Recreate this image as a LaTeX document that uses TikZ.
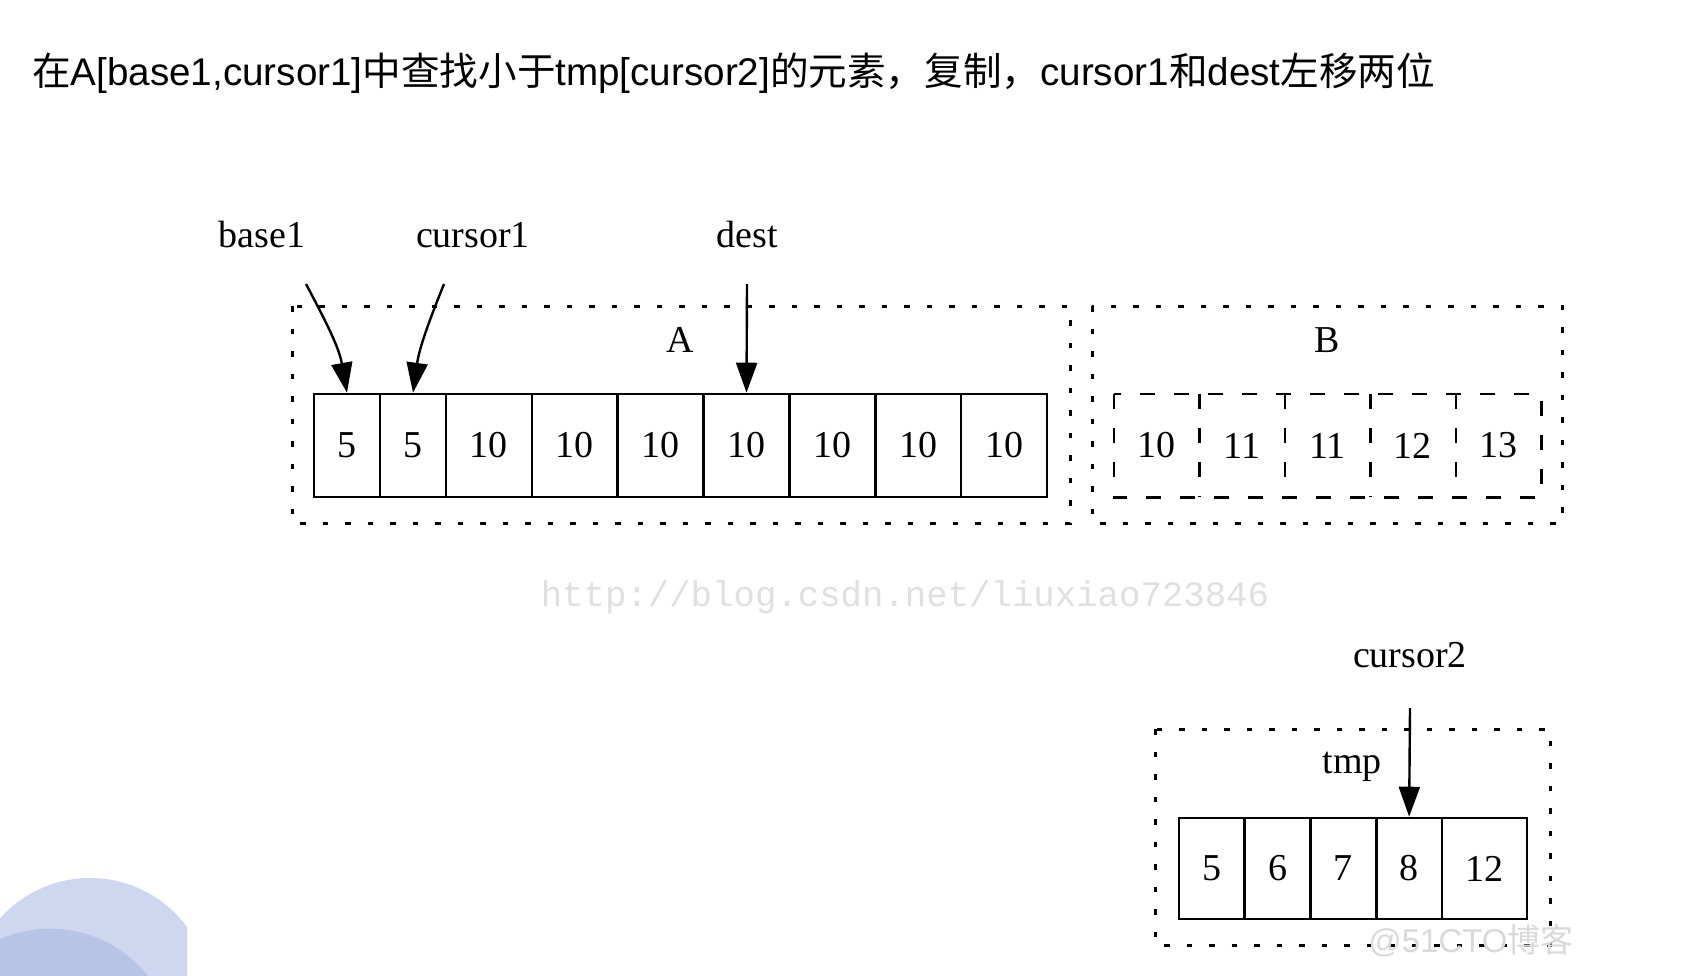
\documentclass[tikz,border=0pt]{standalone}
\usepackage{fontspec}
\setmainfont{Liberation Serif}
\newfontfamily\titlefont{Liberation Sans}
\newfontfamily\cjk{Noto Sans CJK SC}
\newfontfamily\monofont{Liberation Mono}
\usetikzlibrary{arrows.meta}
\definecolor{circlight}{HTML}{CFD6EF}
\definecolor{circdark}{HTML}{B8C4E6}
\begin{document}
\begin{tikzpicture}[x=1pt,y=-1pt,
  lab/.style={font=\fontsize{38}{40}\selectfont, inner sep=0pt},
  cellbox/.style={draw, line width=2.6pt, minimum height=#1, inner sep=0pt, font=\fontsize{38}{40}\selectfont},
  cellbox/.default=103pt,
  ghost/.style={minimum height=103pt, minimum width=85.4pt, inner sep=0pt, font=\fontsize{38}{40}\selectfont},
  dotbox/.style={line width=3pt, dash pattern=on 5.5pt off 17pt},
  dashbox/.style={line width=2.6pt, dash pattern=on 15pt off 19pt},
  arr/.style={line width=2.4pt, -{Triangle[length=30pt,width=21pt]}}
]
\useasboundingbox (0,0) rectangle (1694,975);
\fill[white] (0,0) rectangle (1694,975);
% decorative circles
\begin{scope}
\clip (0,0) rectangle (187,975);
\fill[circlight] (90,998.5) circle[radius=120.5];
\fill[circdark] (50,1054) circle[radius=125.3];
\end{scope}
% title
\node[anchor=base west, inner sep=0pt, font=\titlefont\fontsize{38.6}{40}\selectfont] (title) at (32,85)
  {{\cjk 在}A[base1,cursor1]{\cjk 中查找小于}tmp[cursor2]{\cjk 的元素，复制，}cursor1{\cjk 和}dest{\cjk 左移两位}};
% watermarks
\node[inner sep=0pt, font=\monofont\fontsize{35.7}{36}\selectfont, text=black!12] (url) at (905,597) {http://blog.csdn.net/liuxiao723846};
% outer dotted boxes
\draw[dotbox] (292,306) rectangle (1070,523);
\draw[dotbox] (1092,306) rectangle (1562,523);
\draw[dotbox] (1155,729) rectangle (1550,945);
% group labels
\node[lab, anchor=base] (labA) at (680,352) {A};
\node[lab, anchor=base] (labB) at (1327,352) {B};
\node[lab, anchor=base] (labtmp) at (1352,773) {tmp};
% pointer labels
\node[lab, anchor=base] (base1) at (262,247) {base1};
\node[lab, anchor=base] (cursor1) at (473,247) {cursor1};
\node[lab, anchor=base] (dest) at (747,247) {dest};
\node[lab, anchor=base] (cursor2) at (1410,667) {cursor2};
\coordinate (base1s) at (306,284);
\coordinate (cursor1s) at (444,284);
\coordinate (dests) at (747,284);
\coordinate (cursor2s) at (1410,708);
% array A
\node[cellbox, minimum width=66pt] (a1) at (347,445.5) {5};
\node[cellbox, minimum width=66pt] (a2) at (413,445.5) {5};
\node[cellbox, minimum width=85.86pt] (a3) at (488.93,445.5) {10};
\node[cellbox, minimum width=85.86pt] (a4) at (574.79,445.5) {10};
\node[cellbox, minimum width=85.86pt] (a5) at (660.64,445.5) {10};
\node[cellbox, minimum width=85.86pt] (a6) at (746.5,445.5) {10};
\node[cellbox, minimum width=85.86pt] (a7) at (832.36,445.5) {10};
\node[cellbox, minimum width=85.86pt] (a8) at (918.21,445.5) {10};
\node[cellbox, minimum width=85.86pt] (a9) at (1004.07,445.5) {10};
% array B (dashed)
\node[ghost] (b1) at (1156.7,445.5) {10};
\node[ghost] (b2) at (1242.1,445.5) {11};
\node[ghost] (b3) at (1327.5,445.5) {11};
\node[ghost] (b4) at (1412.9,445.5) {12};
\node[ghost] (b5) at (1498.3,445.5) {13};
\draw[dashbox] (b1.north west) rectangle (b5.south east);
\foreach \c in {b1,b2,b3,b4}
  \draw[dashbox] (\c.north east) -- (\c.south east);
% array tmp
\node[cellbox=101pt, minimum width=65.75pt] (t1) at (1211.875,868.5) {5};
\node[cellbox=101pt, minimum width=65.75pt] (t2) at (1277.625,868.5) {6};
\node[cellbox=101pt, minimum width=65.75pt] (t3) at (1343.375,868.5) {7};
\node[cellbox=101pt, minimum width=65.75pt] (t4) at (1409.125,868.5) {8};
\node[cellbox=101pt, minimum width=85pt] (t5) at (1484.5,868.5) {12};
% pointers
\draw[arr] (base1s) to[out=-62, in=100] (a1.north);
\draw[arr] (cursor1s) to[out=-112, in=82] (a2.north);
\draw[arr] (dests) -- (a6.north);
\draw[arr] (cursor2s) -- (t4.north);
% 51CTO watermark
\node[inner sep=0pt, font=\titlefont\fontsize{33}{34}\selectfont, text=black!15] (wm) at (1471,941) {@51CTO{\cjk 博客}};
\end{tikzpicture}
\end{document}
